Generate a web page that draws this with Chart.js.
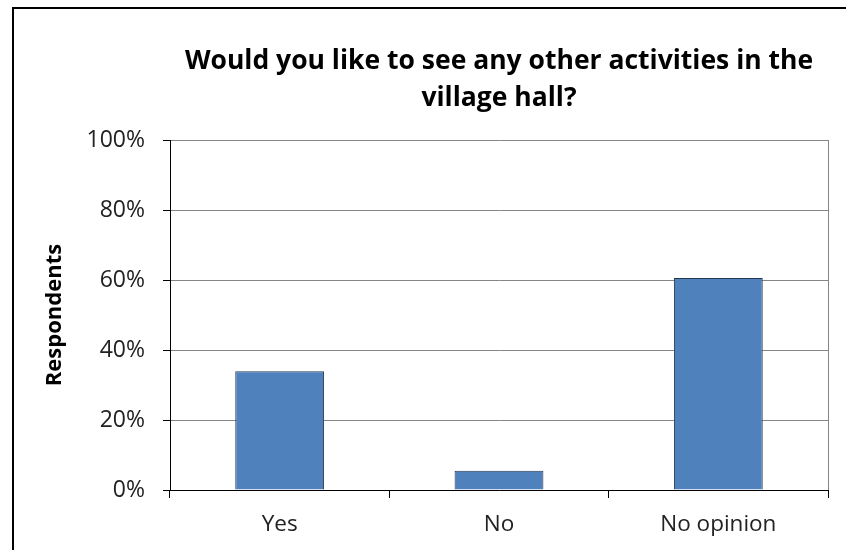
<!DOCTYPE html>
<html>
<head>
<meta charset="utf-8">
<script src="https://cdn.jsdelivr.net/npm/chart.js@4"></script>
<style>
  html, body { margin: 0; padding: 0; background: #fff; overflow: hidden; }
  #frame {
    position: absolute; left: 12px; top: 7px;
    width: 900px; height: 600px;
    border: 2px solid #000;
  }
  #wrap { position: absolute; left: 0; top: 0; width: 846px; height: 550px; }
</style>
</head>
<body>
<div id="frame"></div>
<div id="wrap"><canvas id="chart"></canvas></div>
<script>
const categories = ['Yes', 'No', 'No opinion'];
const percentages = [33.9, 5.5, 60.6];
const yTicks = [0, 20, 40, 60, 80, 100];

// thin grey right edge of the plot area
const plotFrame = {
  id: 'plotFrame',
  afterDatasetsDraw(chart) {
    const { ctx, chartArea: a } = chart;
    ctx.save();
    ctx.strokeStyle = '#868686';
    ctx.lineWidth = 1;
    ctx.beginPath();
    ctx.moveTo(Math.round(a.right) + 0.5, a.top);
    ctx.lineTo(Math.round(a.right) + 0.5, a.bottom);
    ctx.stroke();
    ctx.restore();
  }
};

const font = '"Open Sans", "DejaVu Sans", sans-serif';

new Chart(document.getElementById('chart'), {
  type: 'bar',
  data: {
    labels: categories,
    datasets: [{
      data: percentages,
      backgroundColor: '#4F81BD',
      borderColor: '#263850',
      borderWidth: 1,
      categoryPercentage: 0.405,
      barPercentage: 1
    }]
  },
  options: {
    responsive: true,
    maintainAspectRatio: false,
    animation: false,
    layout: { padding: { left: 42, right: 18, top: 0, bottom: 0 } },
    plugins: {
      legend: { display: false },
      tooltip: { enabled: false },
      title: {
        display: true,
        fullSize: false,
        text: ['Would you like to see any other activities in the', 'village hall?'],
        color: '#000',
        font: { family: font, size: 26.5, weight: 'bold', lineHeight: 1.4 },
        padding: { top: 43, bottom: 22.8 }
      }
    },
    scales: {
      x: {
        offset: true,
        grid: {
          offset: true,
          drawOnChartArea: false,
          tickColor: '#000',
          tickLength: 8
        },
        border: { color: '#000', width: 1 },
        ticks: {
          color: '#222',
          padding: 13,
          font: { family: font, size: 22.5 }
        },
        afterFit(scale) { scale.height = 60; }
      },
      y: {
        min: 0,
        max: 100,
        afterBuildTicks(scale) { scale.ticks = yTicks.map(v => ({ value: v })); },
        grid: { color: '#868686', tickColor: '#000', tickLength: 7 },
        border: { color: '#000', width: 1 },
        ticks: {
          color: '#222',
          padding: 18,
          font: { family: font, size: 23 },
          callback: v => v + '%'
        },
        title: {
          display: true,
          text: 'Respondents',
          color: '#000',
          padding: 0,
          font: { family: font, size: 22, weight: 'bold' }
        },
        afterFit(scale) { scale.width = 128; }
      }
    }
  },
  plugins: [plotFrame]
});
</script>
</body>
</html>
